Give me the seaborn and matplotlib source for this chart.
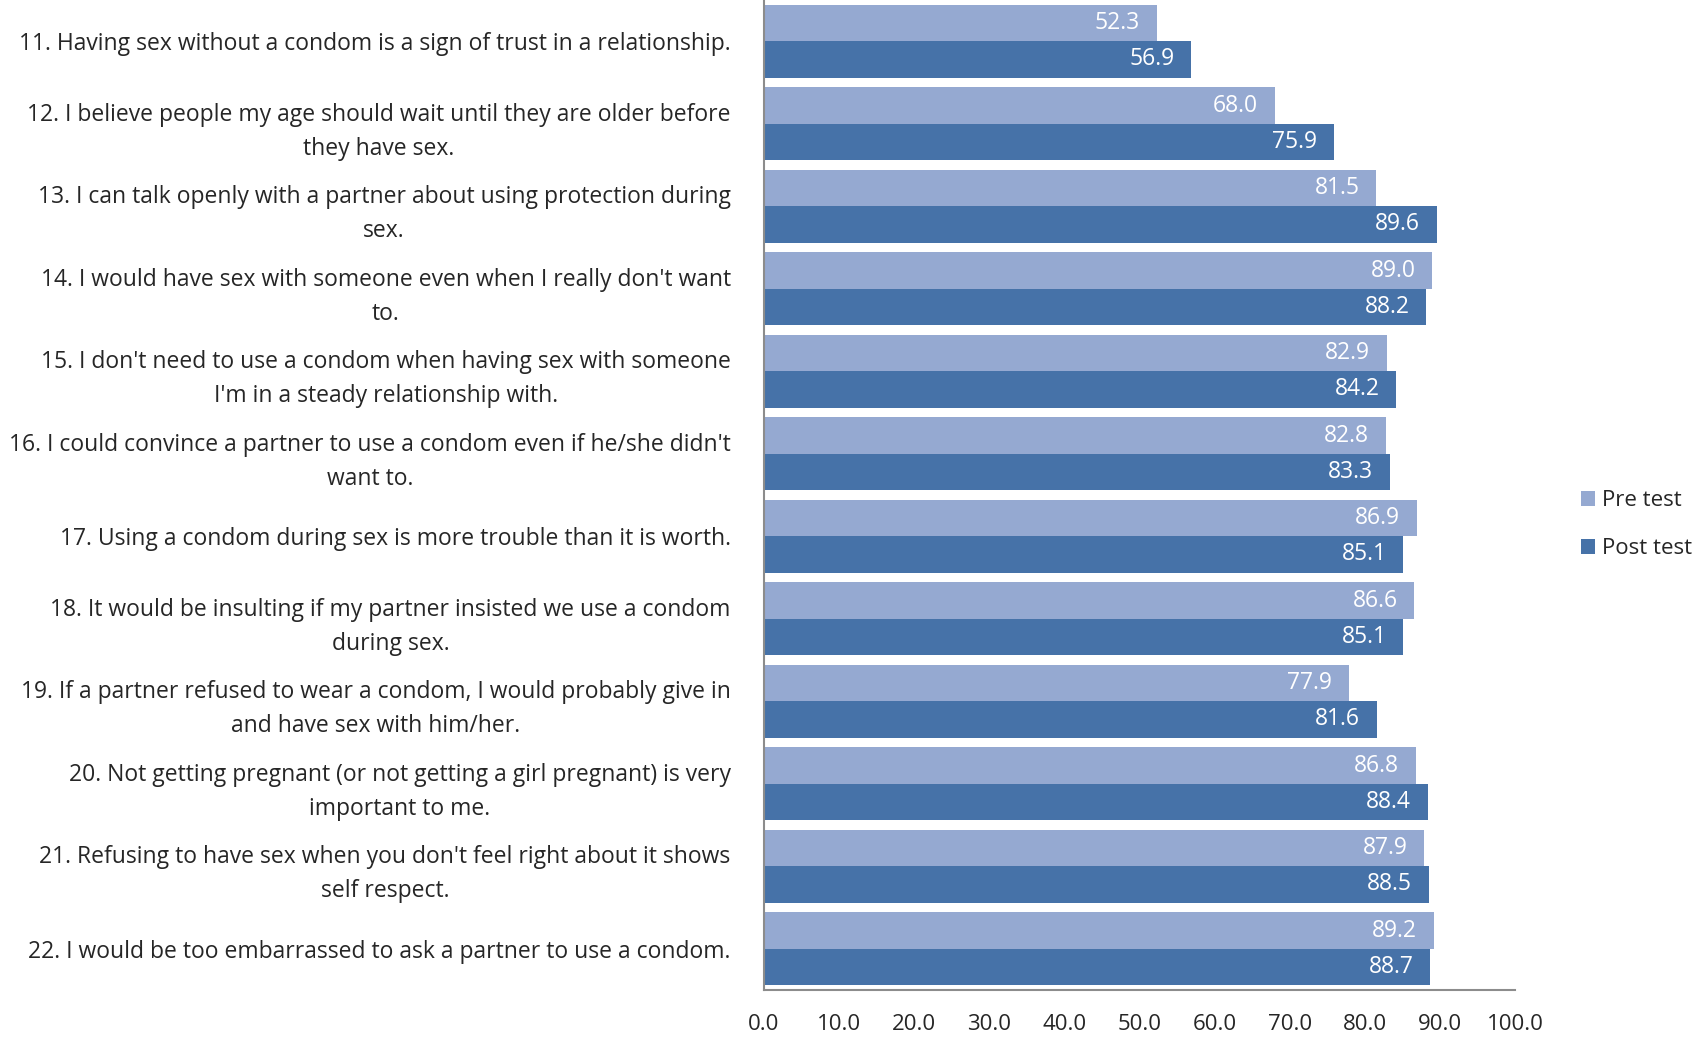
import matplotlib
matplotlib.use("Agg")
import matplotlib.pyplot as plt
import seaborn as sns
import pandas as pd
from matplotlib import font_manager

items = [
    "11. Having sex without a condom is a sign of trust in a relationship.",
    "12. I believe people my age should wait until they are older before\nthey have sex.",
    "13. I can talk openly with a partner about using protection during\nsex.",
    "14. I would have sex with someone even when I really don't want\nto.",
    "15. I don't need to use a condom when having sex with someone\nI'm in a steady relationship with.",
    "16. I could convince a partner to use a condom even if he/she didn't\nwant to.",
    "17. Using a condom during sex is more trouble than it is worth.",
    "18. It would be insulting if my partner insisted we use a condom\nduring sex.",
    "19. If a partner refused to wear a condom, I would probably give in\nand have sex with him/her.",
    "20. Not getting pregnant (or not getting a girl pregnant) is very\nimportant to me.",
    "21. Refusing to have sex when you don't feel right about it shows\nself respect.",
    "22. I would be too embarrassed to ask a partner to use a condom.",
]
pre_test = [52.3, 68.0, 81.5, 89.0, 82.9, 82.8, 86.9, 86.6, 77.9, 86.8, 87.9, 89.2]
post_test = [56.9, 75.9, 89.6, 88.2, 84.2, 83.3, 85.1, 85.1, 81.6, 88.4, 88.5, 88.7]
series_names = ["Pre test", "Post test"]
x_ticks = [0, 10, 20, 30, 40, 50, 60, 70, 80, 90, 100]

df = pd.DataFrame({
    "item": items * 2,
    "value": pre_test + post_test,
    "series": [series_names[0]] * len(items) + [series_names[1]] * len(items),
})

sns.set_theme(style="white")
avail = {f.name for f in font_manager.fontManager.ttflist}
fam = "Liberation Sans Narrow" if "Liberation Sans Narrow" in avail else "Open Sans"
plt.rcParams["font.family"] = [fam, "DejaVu Sans"]

colors = {"Pre test": "#95a9d1", "Post test": "#4672a8"}

fig = plt.figure(figsize=(17.05, 10.4), dpi=100)
ax = fig.add_axes([764 / 1705, 50 / 1040, (1515 - 764) / 1705, 990 / 1040])

sns.barplot(data=df, y="item", x="value", hue="series", order=items,
            hue_order=series_names, palette=colors, orient="h",
            width=0.88, dodge=True, ax=ax, saturation=1, legend=True,
            edgecolor="none")

# label bars
for container, vals in zip(ax.containers, [pre_test, post_test]):
    for patch, v in zip(container.patches, vals):
        y = patch.get_y() + patch.get_height() / 2
        ax.annotate(f"{v:.1f}", xy=(v, y), xytext=(-12, 0),
                    textcoords="offset points", ha="right", va="center",
                    color="white", fontsize=16.5)

ax.set_xlim(0, 100)
ax.set_ylim(11.5, -0.5)
ax.set_xticks(x_ticks)
ax.set_xticklabels([f"{t:.1f}" for t in x_ticks], fontsize=16)
ax.set_xlabel("")
ax.set_ylabel("")
ax.tick_params(axis="x", length=0, pad=17)
ax.tick_params(axis="y", length=0, pad=24, labelsize=16.5)
for lbl in ax.get_yticklabels():
    lbl.set_multialignment("center")
    lbl.set_linespacing(1.55)
for s in ["top", "right"]:
    ax.spines[s].set_visible(False)
for s in ["left", "bottom"]:
    ax.spines[s].set_color("#8c8c8c")
    ax.spines[s].set_linewidth(1.5)

leg = ax.legend(loc="center left", bbox_to_anchor=(1.07, 0.47), frameon=False,
                fontsize=16, handlelength=0.65, handleheight=0.65,
                handletextpad=0.3, labelspacing=1.2, borderaxespad=0.2)

fig.savefig("out.png", dpi=100)
